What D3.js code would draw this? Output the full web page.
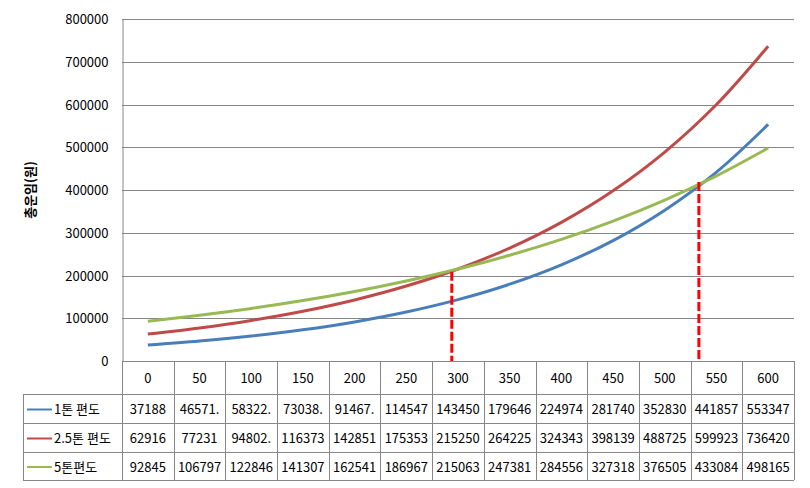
<!DOCTYPE html>
<html><head><meta charset="utf-8">
<script src="https://cdn.jsdelivr.net/npm/d3@7"></script>
<style>
html,body{margin:0;padding:0;background:#fff;}
svg{display:block;font-family:"Noto Sans CJK KR","Noto Sans",sans-serif;}
</style></head>
<body>
<svg id="chart" width="810" height="488"></svg>
<script>
const categories = [0, 50, 100, 150, 200, 250, 300, 350, 400, 450, 500, 550, 600];
const seriesNames = ["1톤 편도", "2.5톤 편도", "5톤편도"];
const seriesColors = ["#4A7EBB", "#BE4B48", "#98B954"];
const oneTon = [37188, 46571.3, 58322.5, 73038.2, 91467.4, 114547, 143450, 179646, 224974, 281740, 352830, 441857, 553347];
const twoHalfTon = [62916, 77231, 94802.6, 116373, 142851, 175353, 215250, 264225, 324343, 398139, 488725, 599923, 736420];
const fiveTon = [92845, 106797, 122846, 141307, 162541, 186967, 215063, 247381, 284556, 327318, 376505, 433084, 498165];
const yTicks = [0, 100000, 200000, 300000, 400000, 500000, 600000, 700000, 800000];
const yTitle = "총운임(원)";
const crossX = [294, 533];
const crossY = [209000, 419000];

(function () {
const series = [oneTon, twoHalfTon, fiveTon];
const svg = d3.select("#chart");
const pL = 122, pR = 794, pT = 19, pB = 361;
const rowH = [394, 423, 452, 480];
const legendLeft = 23;
const grid = "#868686";

const x = d3.scaleBand().domain(categories).range([pL, pR]).padding(0);
const cx = c => x(c) + x.bandwidth() / 2;
const xLin = d3.scaleLinear().domain([0, 600]).range([cx(0), cx(600)]);
const y = d3.scaleLinear().domain([0, 800000]).range([pB, pT]);

svg.append("g").selectAll("line").data(yTicks).join("line")
  .attr("x1", pL).attr("x2", pR)
  .attr("y1", d => Math.round(y(d)) + 0.5).attr("y2", d => Math.round(y(d)) + 0.5)
  .attr("stroke", grid).attr("stroke-width", 1);

const yAxis = d3.axisLeft(y).tickValues(yTicks).tickSize(0).tickPadding(14).tickFormat(d => String(d));
const yg = svg.append("g").attr("transform", `translate(${pL + 0.5},0.5)`).call(yAxis);
yg.select(".domain").attr("stroke", grid);
yg.selectAll("text").attr("font-size", 13).attr("fill", "#000")
  .attr("font-family", "'Noto Sans CJK KR','Noto Sans',sans-serif");

svg.append("text").attr("transform", "translate(29,190) rotate(-90)")
  .attr("text-anchor", "middle").attr("dominant-baseline", "central")
  .attr("font-size", 13).attr("font-weight", "bold").attr("fill", "#000").text(yTitle);

const tg = svg.append("g");
const fmt = v => String(v).slice(0, 6);
tg.selectAll("text.hdr").data(categories).join("text").attr("class", "hdr")
  .attr("x", d => cx(d)).attr("y", (pB + rowH[0]) / 2)
  .attr("text-anchor", "middle").attr("dominant-baseline", "central")
  .attr("font-size", 13).attr("fill", "#000").text(d => String(d));
const colEdges = categories.map(c => x(c)).concat([pR]);
tg.selectAll("line.col").data(colEdges).join("line").attr("class", "col")
  .attr("x1", d => Math.round(d) + 0.5).attr("x2", d => Math.round(d) + 0.5)
  .attr("y1", pB).attr("y2", rowH[3])
  .attr("stroke", grid);
tg.selectAll("line.row").data(rowH).join("line").attr("class", "row")
  .attr("x1", legendLeft).attr("x2", pR)
  .attr("y1", d => d + 0.5).attr("y2", d => d + 0.5).attr("stroke", grid);
tg.append("line").attr("x1", legendLeft + 0.5).attr("x2", legendLeft + 0.5)
  .attr("y1", rowH[0]).attr("y2", rowH[3]).attr("stroke", grid);

series.forEach((vals, si) => {
  const r0 = rowH[si], r1 = rowH[si + 1], mid = (r0 + r1) / 2;
  tg.append("line").attr("x1", 27).attr("x2", 52).attr("y1", mid + 1).attr("y2", mid + 1)
    .attr("stroke", seriesColors[si]).attr("stroke-width", 2);
  tg.append("text").attr("x", 54).attr("y", mid).attr("dominant-baseline", "central")
    .attr("font-size", 13).attr("fill", "#000").text(seriesNames[si]);
  tg.selectAll(null).data(vals).join("text")
    .attr("x", (d, i) => cx(categories[i])).attr("y", mid)
    .attr("text-anchor", "middle").attr("dominant-baseline", "central")
    .attr("font-size", 13).attr("fill", "#000").text(d => fmt(d));
});

const line = d3.line().x((d, i) => cx(categories[i])).y(d => y(d)).curve(d3.curveCatmullRom.alpha(0.5));
series.forEach((vals, si) => {
  svg.append("path").datum(vals).attr("d", line).attr("fill", "none")
    .attr("stroke", seriesColors[si]).attr("stroke-width", 3).attr("stroke-linejoin", "round");
});

svg.append("g").selectAll("line").data(crossX).join("line")
  .attr("x1", d => xLin(d)).attr("x2", d => xLin(d))
  .attr("y1", (d, i) => y(crossY[i])).attr("y2", pB)
  .attr("stroke", "#FF0000").attr("stroke-width", 3).attr("stroke-dasharray", "9,3");
})();
</script>
</body></html>
